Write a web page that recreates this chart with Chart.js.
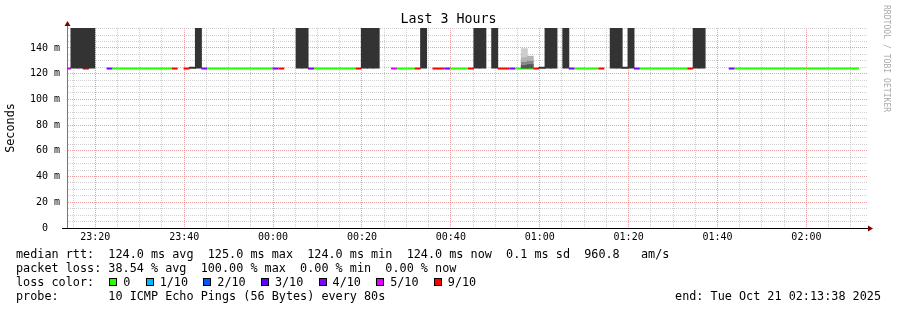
<!DOCTYPE html>
<html>
<head>
<meta charset="utf-8">
<script src="https://cdn.jsdelivr.net/npm/chart.js@4.4.1/dist/chart.umd.min.js"></script>
<style>
html,body{margin:0;padding:0;background:#fff;}
#wrap{position:relative;width:897px;height:310px;overflow:hidden;background:#fff;}
#c{position:absolute;left:0;top:0;}
.lg{position:absolute;left:16px;font-family:'DejaVu Sans Mono',monospace;font-size:11.8px;line-height:14px;white-space:pre;color:#000;}
.box{display:inline-block;width:6px;height:6px;border:1px solid #000;margin:0 6px 0 1px;vertical-align:0px;}
#end{position:absolute;right:16px;font-family:'DejaVu Sans Mono',monospace;font-size:11.8px;line-height:14px;white-space:pre;color:#000;}
#wm{position:absolute;left:892px;top:5px;transform-origin:0 0;transform:rotate(90deg);font-family:'DejaVu Sans Mono',monospace;font-size:8.1px;line-height:10px;white-space:pre;color:#aaa;}
</style>
</head>
<body>
<div id="wrap">
  <canvas id="c" width="897" height="310"></canvas>
  <div class="lg" id="l1" style="top:247px"></div>
  <div class="lg" id="l2" style="top:261px"></div>
  <div class="lg" id="l3" style="top:275px"></div>
  <div class="lg" id="l4" style="top:289px"></div>
  <div id="end" style="top:289px"></div>
  <div id="wm"></div>
</div>
<script>
// ---------- data (times in minutes after 23:00, step = one 80 s probe round) ----------
const chartTitle = 'Last 3 Hours';
const yAxisTitle = 'Seconds';
const viewStartMin = 13 + 38/60;          // 23:13:38
const viewEndMin = viewStartMin + 180;    // 02:13:38
const firstStepEndMin = 14 + 32/60;       // 23:14:32
const stepMin = 80/60;

const xGridMin = [15,20,25,30,35,40,45,50,55,60,65,70,75,80,85,90,95,100,105,110,115,120,125,130,135,140,145,150,155,160,165,170,175,180,185,190];
const xLabelMin = [20,40,60,80,100,120,140,160,180];
const xLabels = ['23:20','23:40','00:00','00:20','00:40','01:00','01:20','01:40','02:00'];

const yMaxMs = 155.56;
const yGridMs = [0,5,10,15,20,25,30,35,40,45,50,55,60,65,70,75,80,85,90,95,100,105,110,115,120,125,130,135,140,145,150,155];
const yLabelMs = [0,20,40,60,80,100,120,140];
const yLabels = ['0  ','20 m','40 m','60 m','80 m','100 m','120 m','140 m'];

// loss per step (tenths), null = no median drawn
const lossTenths = [
  5,null,null,9,null,null,null,4,0,0,
  0,0,0,0,0,0,0,0,9,null,
  9,null,null,4,0,0,0,0,0,0,
  0,0,0,0,0,4,9,null,null,null,
  null,4,0,0,0,0,0,0,0,9,
  null,null,null,null,null,5,0,0,0,9,
  null,null,9,9,4,0,0,0,9,null,
  null,null,null,9,9,4,0,0,0,9,
  null,null,null,null,null,4,0,0,0,0,
  9,null,null,null,null,null,4,0,0,0,
  0,0,0,0,0,9,null,null,null,null,
  null,null,4,0,0,0,0,0,0,0,
  0,0,0,0,0,0,0,0,0,0,
  0,0,0,0,null
];
// median rtt per step (ms)
const medianMs = [
  124,null,null,124,null,null,null,124,124,124,
  124,124,124,124,124,124,124,124,124,null,
  124,null,null,124,124,124,124,124,124,124,
  124,124,124,124,124,124,124,null,null,null,
  null,124,124,124,124,124,124,124,124,124,
  null,null,null,null,null,124,124,124,124,124,
  null,null,124,124,124,124,124,124,124,null,
  null,null,null,124,124,124,124,124,124,124,
  null,null,null,null,null,124,124,124,124,124,
  124,null,null,null,null,null,124,124,124,124,
  124,124,124,124,124,124,null,null,null,null,
  null,null,124,124,124,124,124,124,124,124,
  124,124,124,124,124,124,124,124,124,124,
  124,124,124,124,null
];
// dark smoke columns
const smokeSteps  = [1,2,3,4,21,22,39,40,50,51,52,60,69,70,72,80,81,82,84,92,93,94,95,106,107];
const smokeLowMs  = [124.4,124.4,124.4,124.4,124.2,124.4,124.4,124.4,124.4,124.4,124.4,124.4,124.4,124.4,124.4,124.2,124.4,124.4,124.4,124.4,124.4,124.2,124.4,124.4,124.4];
const smokeHighMs = [155.6,155.6,155.6,155.6,125.0,155.6,155.6,155.6,155.6,155.6,155.6,155.6,155.6,155.6,155.6,125.0,155.6,155.6,155.6,155.6,155.6,125.0,155.6,155.6,155.6];
// light smoke layers
const lightSmokeSteps = [77,78];
const lightSmokeBase = [124.4,124.4];
const lightSmokeTop1 = [126.2,127.0];
const lightSmokeTop2 = [128.8,129.6];
const lightSmokeTop3 = [132.2,133.5];
const lightSmokeTop4 = [139.4,null];

const lossColors = {0:'#26ff00',1:'#00b8ff',2:'#0059ff',3:'#5e00ff',4:'#7e00ff',5:'#dd00ff',9:'#ff0000'};
const legendLoss = ['0','1/10','2/10','3/10','4/10','5/10','9/10'];
const legendLossKey = [0,1,2,3,4,5,9];
const statLines = [
  'median rtt:  124.0 ms avg  125.0 ms max  124.0 ms min  124.0 ms now  0.1 ms sd  960.8   am/s',
  'packet loss: 38.54 % avg  100.00 % max  0.00 % min  0.00 % now'
];
const probeLine = 'probe:       10 ICMP Echo Pings (56 Bytes) every 80s';
const endLine = 'end: Tue Oct 21 02:13:38 2025';
const watermark = 'RRDTOOL / TOBI OETIKER';

// ---------- build ----------
const N = lossTenths.length;
const stepStart = j => firstStepEndMin + (j - 1) * stepMin;
const stepCenter = j => firstStepEndMin + (j - 0.5) * stepMin;

const medianPts = [];
for (let k = 0; k <= N; k++) {
  let y = null;
  if (k < N && medianMs[k] != null) y = medianMs[k];
  else if (k > 0 && medianMs[k-1] != null) y = medianMs[k-1];
  medianPts.push({x: stepStart(k), y: y});
}
const darkSmoke = smokeSteps.map((s, i) => ({x: stepCenter(s), y: [smokeLowMs[i], smokeHighMs[i]]}));
function layer(lo, hi) {
  const out = [];
  lightSmokeSteps.forEach((s, i) => { if (lo[i] != null && hi[i] != null) out.push({x: stepCenter(s), y: [lo[i], hi[i]]}); });
  return out;
}

const mono = 'DejaVu Sans Mono';
const majorGrid = 'rgba(230,128,128,0.75)';
const minorGrid = 'rgba(191,191,191,0.75)';

const axisArrows = {
  id: 'axisArrows',
  afterDraw(chart) {
    const {ctx, chartArea: {left, right, top, bottom}} = chart;
    const yb = Math.round(bottom) + 0.5, xl = Math.round(left) + 0.5;
    ctx.save();
    ctx.strokeStyle = '#000'; ctx.lineWidth = 1;
    ctx.beginPath(); ctx.moveTo(left - 5, yb); ctx.lineTo(right + 2, yb); ctx.stroke();
    ctx.strokeStyle = '#777';
    ctx.beginPath(); ctx.moveTo(xl, top); ctx.lineTo(xl, top - 3); ctx.stroke();
    ctx.fillStyle = '#800000';
    ctx.beginPath(); ctx.moveTo(xl - 3, top - 2); ctx.lineTo(xl + 3, top - 2); ctx.lineTo(xl, top - 7); ctx.closePath(); ctx.fill();
    ctx.beginPath(); ctx.moveTo(right + 1, yb - 3); ctx.lineTo(right + 1, yb + 3); ctx.lineTo(right + 6, yb); ctx.closePath(); ctx.fill();
    ctx.restore();
  }
};

const barCommon = {type: 'bar', grouped: false, barPercentage: 1, categoryPercentage: 1, borderWidth: 0, inflateAmount: 0.5, order: 0};

new Chart(document.getElementById('c'), {
  type: 'bar',
  data: {
    datasets: [
      Object.assign({label: 'smoke', data: darkSmoke, backgroundColor: '#333333'}, barCommon),
      Object.assign({label: 'smoke1', data: layer(lightSmokeBase, lightSmokeTop1), backgroundColor: '#555555'}, barCommon),
      Object.assign({label: 'smoke2', data: layer(lightSmokeTop1, lightSmokeTop2), backgroundColor: '#888888'}, barCommon),
      Object.assign({label: 'smoke3', data: layer(lightSmokeTop2, lightSmokeTop3), backgroundColor: '#b4b4b4'}, barCommon),
      Object.assign({label: 'smoke4', data: layer(lightSmokeTop3, lightSmokeTop4), backgroundColor: '#cdcdcd'}, barCommon),
      {
        type: 'line', label: 'median rtt', data: medianPts, order: 1,
        stepped: 'after', borderWidth: 2, pointRadius: 0, borderCapStyle: 'butt',
        spanGaps: false, fill: false, borderColor: '#26ff00',
        segment: {
          borderColor: ctx => {
            const j = ctx.p0DataIndex;
            return (j < N && medianMs[j] != null) ? lossColors[lossTenths[j]] : 'rgba(0,0,0,0)';
          }
        }
      }
    ]
  },
  options: {
    responsive: false, animation: false, devicePixelRatio: 1, events: [],
    layout: {padding: {left: 0, right: 0, top: 0, bottom: 0}},
    plugins: {
      legend: {display: false}, tooltip: {enabled: false},
      title: {display: true, text: chartTitle, color: '#000', font: {family: mono, size: 13.3, weight: 'normal'}, padding: {top: 12, bottom: 0}}
    },
    scales: {
      x: {
        type: 'linear', min: viewStartMin, max: viewEndMin, offset: false,
        afterBuildTicks: s => { s.ticks = xGridMin.map(v => ({value: v})); },
        afterFit: s => { s.height = 82; },
        ticks: {
          autoSkip: false, maxRotation: 0, minRotation: 0, padding: 3, color: '#000',
          font: {family: mono, size: 10},
          callback: v => { const i = xLabelMin.indexOf(v); return i >= 0 ? xLabels[i] : ''; }
        },
        grid: {offset: false, drawTicks: false, lineWidth: 1, color: c => (c.tick && xLabelMin.indexOf(c.tick.value) >= 0) ? majorGrid : minorGrid},
        border: {display: true, color: '#000', dash: [1, 1]}
      },
      y: {
        type: 'linear', min: 0, max: yMaxMs,
        afterBuildTicks: s => { s.ticks = yGridMs.map(v => ({value: v})); },
        afterFit: s => { s.width = 67; },
        ticks: {
          autoSkip: false, padding: 7, color: '#000', font: {family: mono, size: 10},
          callback: v => { const i = yLabelMs.indexOf(v); return i >= 0 ? yLabels[i] : ''; }
        },
        title: {display: true, text: yAxisTitle, color: '#000', font: {family: mono, size: 11.8}, padding: {top: 4, bottom: 0}},
        grid: {offset: false, drawTicks: false, lineWidth: 1, color: c => (c.tick && yLabelMs.indexOf(c.tick.value) >= 0 && c.tick.value !== 0) ? majorGrid : minorGrid},
        border: {display: true, color: '#777', dash: [1, 1]}
      },
      yRightMargin: {
        type: 'linear', position: 'right', min: 0, max: yMaxMs,
        grid: {display: false, drawOnChartArea: false}, border: {display: false}, ticks: {display: false},
        afterFit: s => { s.width = 30; }
      }
    }
  },
  plugins: [axisArrows]
});

// ---------- text legend ----------
document.getElementById('l1').textContent = statLines[0];
document.getElementById('l2').textContent = statLines[1];
const l3 = document.getElementById('l3');
l3.appendChild(document.createTextNode('loss color:  '));
legendLoss.forEach((t, i) => {
  const b = document.createElement('span');
  b.className = 'box';
  b.style.background = lossColors[legendLossKey[i]];
  l3.appendChild(b);
  l3.appendChild(document.createTextNode(t + (i < legendLoss.length - 1 ? '  ' : '')));
});
document.getElementById('l4').textContent = probeLine;
document.getElementById('end').textContent = endLine;
document.getElementById('wm').textContent = watermark;
</script>
</body>
</html>
